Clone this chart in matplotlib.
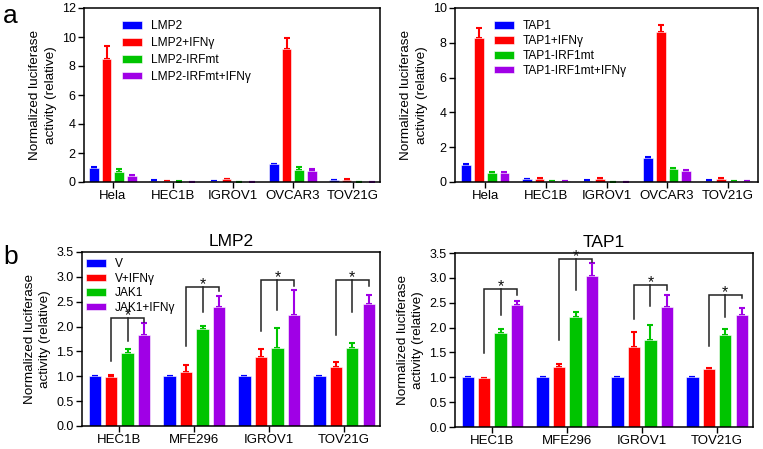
import matplotlib
matplotlib.use("Agg")
import matplotlib.pyplot as plt
import numpy as np
from matplotlib.ticker import FormatStrFormatter

plt.rcParams['font.family'] = ['Liberation Sans', 'DejaVu Sans']

colors = ['#0000FF', '#FF0000', '#00C400', '#A000E6']

# Panel a
a_groups = ['Hela', 'HEC1B', 'IGROV1', 'OVCAR3', 'TOV21G']
lmp2_labels = ['LMP2', 'LMP2+IFNγ', 'LMP2-IRFmt', 'LMP2-IRFmt+IFNγ']
lmp2_mean = [
    [1.0, 0.10, 0.08, 1.22, 0.12],
    [8.45, 0.08, 0.22, 9.2, 0.15],
    [0.72, 0.03, 0.02, 0.82, 0.01],
    [0.42, 0.02, 0.02, 0.75, 0.01],
]
lmp2_err = [
    [0.03, 0.01, 0.01, 0.05, 0.03],
    [0.90, 0.01, 0.02, 0.75, 0.07],
    [0.20, 0.01, 0.01, 0.23, 0.00],
    [0.05, 0.01, 0.00, 0.17, 0.00],
]
tap1_labels = ['TAP1', 'TAP1+IFNγ', 'TAP1-IRF1mt', 'TAP1-IRF1mt+IFNγ']
tap1_mean = [
    [1.0, 0.18, 0.08, 1.40, 0.08],
    [8.3, 0.20, 0.20, 8.6, 0.15],
    [0.50, 0.06, 0.02, 0.72, 0.06],
    [0.52, 0.05, 0.02, 0.65, 0.04],
]
tap1_err = [
    [0.02, 0.02, 0.01, 0.05, 0.02],
    [0.55, 0.02, 0.03, 0.45, 0.07],
    [0.10, 0.01, 0.00, 0.06, 0.01],
    [0.03, 0.01, 0.00, 0.03, 0.01],
]

# Panel b
b_groups = ['HEC1B', 'MFE296', 'IGROV1', 'TOV21G']
b_labels = ['V', 'V+IFNγ', 'JAK1', 'JAK1+IFNγ']
b_lmp2_mean = [
    [1.0, 1.0, 1.0, 1.0],
    [0.98, 1.08, 1.38, 1.19],
    [1.47, 1.95, 1.56, 1.57],
    [1.84, 2.40, 2.24, 2.45],
]
b_lmp2_err = [
    [0.0, 0.0, 0.0, 0.0],
    [0.04, 0.14, 0.16, 0.09],
    [0.07, 0.07, 0.41, 0.10],
    [0.24, 0.22, 0.50, 0.19],
]
b_tap1_mean = [
    [1.0, 1.0, 1.0, 1.0],
    [0.99, 1.20, 1.61, 1.17],
    [1.89, 2.22, 1.75, 1.86],
    [2.46, 3.03, 2.42, 2.26],
]
b_tap1_err = [
    [0.0, 0.0, 0.0, 0.0],
    [0.0, 0.06, 0.30, 0.02],
    [0.09, 0.09, 0.31, 0.11],
    [0.07, 0.27, 0.23, 0.14],
]
# brackets: top y, left leg bottom, middle bottom, right bottom
lmp2_br_top = [2.17, 2.79, 2.93, 2.93]
lmp2_br_left = [1.30, 1.60, 1.92, 1.83]
lmp2_br_mid = [1.71, 2.30, 2.34, 2.29]
lmp2_br_right = [2.10, 2.71, 2.82, 2.82]
tap1_br_top = [2.77, 3.38, 2.86, 2.66]
tap1_br_left = [1.48, 1.75, 2.17, 1.62]
tap1_br_mid = [2.25, 2.76, 2.44, 2.22]
tap1_br_right = [2.66, 3.31, 2.76, 2.59]

W, H = 763, 449
fig = plt.figure(figsize=(W / 100, H / 100), dpi=100)


def add_ax(l, r, t, b):
    return fig.add_axes([l / W, (H - b) / H, (r - l) / W, (b - t) / H])


def draw_bars(ax, groups, means, errs, labels, pitch, width, xlim):
    x = np.arange(len(groups))
    n = len(means)
    for i in range(n):
        off = (i - (n - 1) / 2) * pitch
        ax.bar(x + off, means[i], width, color=colors[i], edgecolor='white',
               linewidth=0.4, label=labels[i], zorder=2)
        ax.errorbar(x + off, means[i], yerr=[np.zeros(len(groups)), errs[i]],
                    fmt='none', ecolor=colors[i], elinewidth=1.5, capsize=2.2,
                    capthick=1.5, zorder=1)
    ax.set_xticks(x)
    ax.set_xticklabels(groups, fontsize=9)
    ax.set_xlim(*xlim)
    for s in ax.spines.values():
        s.set_linewidth(1.1)
    ax.tick_params(axis='both', direction='out', length=4, width=1.0, labelsize=9, pad=2)
    ax.tick_params(axis='x', labelsize=9.5)
    ax.set_ylabel('Normalized luciferase\nactivity (relative)', fontsize=9.7, labelpad=3.5, linespacing=1.4)


def brackets(ax, tops, lefts, mids, rights, pitch):
    for g in range(len(tops)):
        xl = g - 0.5 * pitch
        xm = g + 0.5 * pitch
        xr = g + 1.5 * pitch
        ax.plot([xl, xl, xr, xr], [lefts[g], tops[g], tops[g], rights[g]],
                color='#222222', lw=1.1, zorder=3, solid_joinstyle='miter')
        ax.plot([xm, xm], [tops[g], mids[g]], color='#222222', lw=1.1, zorder=3)
        ax.text(xm, tops[g] - 0.1, '*', ha='center', va='bottom', fontsize=11.5,
                color='#111111', zorder=4)


leg_kw = dict(loc='upper left', frameon=False, fontsize=8.6, handlelength=1.65,
              handleheight=0.6, handletextpad=0.75)

# a-left
ax1 = add_ax(84, 380, 8, 182)
draw_bars(ax1, a_groups, lmp2_mean, lmp2_err, lmp2_labels, 0.21, 0.16, (-0.48, 4.45))
ax1.set_ylim(0, 12)
ax1.set_yticks(range(0, 13, 2))
ax1.legend(bbox_to_anchor=(0.093, 0.99), labelspacing=0.4, **leg_kw)

# a-right
ax2 = add_ax(455, 758, 8, 182)
draw_bars(ax2, a_groups, tap1_mean, tap1_err, tap1_labels, 0.21, 0.16, (-0.5, 4.5))
ax2.set_ylim(0, 10)
ax2.set_yticks(range(0, 11, 2))
ax2.legend(bbox_to_anchor=(0.094, 0.99), labelspacing=0.23, **leg_kw)

# b-left
ax3 = add_ax(82, 380, 252, 426)
draw_bars(ax3, b_groups, b_lmp2_mean, b_lmp2_err, b_labels, 0.22, 0.165, (-0.5, 3.48))
ax3.set_ylim(0, 3.5)
ax3.set_yticks(np.arange(0, 3.51, 0.5))
ax3.yaxis.set_major_formatter(FormatStrFormatter('%.1f'))
brackets(ax3, lmp2_br_top, lmp2_br_left, lmp2_br_mid, lmp2_br_right, 0.22)
ax3.set_title('LMP2', fontsize=12.5, pad=4)
ax3.legend(bbox_to_anchor=(-0.022, 1.025), labelspacing=0.2, **leg_kw)

# b-right
ax4 = add_ax(455, 753, 253, 427)
draw_bars(ax4, b_groups, b_tap1_mean, b_tap1_err, b_labels, 0.22, 0.165, (-0.5, 3.48))
ax4.set_ylim(0, 3.5)
ax4.set_yticks(np.arange(0, 3.51, 0.5))
ax4.yaxis.set_major_formatter(FormatStrFormatter('%.1f'))
brackets(ax4, tap1_br_top, tap1_br_left, tap1_br_mid, tap1_br_right, 0.22)
ax4.set_title('TAP1', fontsize=12.5, pad=4)

fig.text(3 / W, 1 - 16 / H, 'a', fontsize=19, ha='left', va='center')
fig.text(3 / W, 1 - 257 / H, 'b', fontsize=19, ha='left', va='center')

fig.savefig('out.png', dpi=100)
